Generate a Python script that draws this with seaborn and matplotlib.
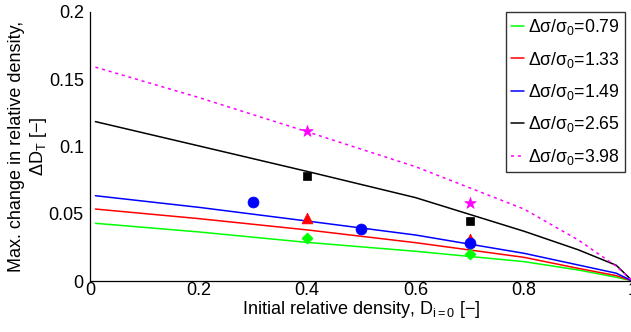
import matplotlib
matplotlib.use("Agg")
import matplotlib.pyplot as plt
import seaborn as sns

# Model curves: max. change in relative density vs initial relative density
x_curve = [0.01, 0.2, 0.4, 0.6, 0.8, 0.9, 0.97, 1.0]
dt_079 = [0.0429, 0.0365, 0.0287, 0.0221, 0.0144, 0.0082, 0.0028, 0.0]
dt_133 = [0.0535, 0.0464, 0.0380, 0.0285, 0.0176, 0.0094, 0.0040, 0.0]
dt_149 = [0.0634, 0.0548, 0.0446, 0.0342, 0.0206, 0.0119, 0.0058, 0.0]
dt_265 = [0.1185, 0.1005, 0.0815, 0.0620, 0.0370, 0.0232, 0.0117, 0.0]
dt_398 = [0.1590, 0.1365, 0.1110, 0.0850, 0.0535, 0.0305, 0.0110, 0.0]

# Measured points
x_079_pts = [0.4, 0.7]
y_079_pts = [0.032, 0.020]
x_133_pts = [0.4, 0.7]
y_133_pts = [0.047, 0.031]
x_149_pts = [0.3, 0.5, 0.7]
y_149_pts = [0.059, 0.039, 0.0285]
x_265_pts = [0.4, 0.7]
y_265_pts = [0.078, 0.0448]
x_398_pts = [0.4, 0.7]
y_398_pts = [0.1115, 0.0578]

labels = [r"Δσ/σ$_0$=0.79", r"Δσ/σ$_0$=1.33", r"Δσ/σ$_0$=1.49",
          r"Δσ/σ$_0$=2.65", r"Δσ/σ$_0$=3.98"]
x_ticks = [0, 0.2, 0.4, 0.6, 0.8, 1.0]
x_ticklabels = ["0", "0.2", "0.4", "0.6", "0.8", "1"]
y_ticks = [0, 0.05, 0.1, 0.15, 0.2]
y_ticklabels = ["0", "0.05", "0.1", "0.15", "0.2"]

sns.set_theme(style="white")
plt.rcParams["font.family"] = ["Liberation Sans", "DejaVu Sans"]
plt.rcParams["mathtext.fontset"] = "custom"
plt.rcParams["mathtext.rm"] = "Liberation Sans"
plt.rcParams["mathtext.it"] = "Liberation Sans"
plt.rcParams["mathtext.default"] = "regular"

fs = 13
fig = plt.figure(figsize=(6.31, 3.32), dpi=100)
ax = fig.add_axes([90 / 631, 51 / 332, 542.5 / 631, 269 / 332])
ax.set_facecolor("white")

curves = [dt_079, dt_133, dt_149, dt_265, dt_398]
colors = ["#00ff00", "#ff0000", "#0000ff", "#000000", "#ff00ff"]
styles = ["-", "-", "-", "-", (0, (2.0, 2.5))]
for ys, c, ls, lab in zip(curves, colors, styles, labels):
    sns.lineplot(x=x_curve, y=ys, ax=ax, color=c, linewidth=1.1,
                 linestyle=ls, label=lab, sort=False, zorder=2)

pts = [
    (x_079_pts, y_079_pts, "D", 32, colors[0]),
    (x_133_pts, y_133_pts, "^", 60, colors[1]),
    (x_149_pts, y_149_pts, "o", 62, colors[2]),
    (x_265_pts, y_265_pts, "s", 28, colors[3]),
    (x_398_pts, y_398_pts, "*", 75, colors[4]),
]
for xs, ys, m, s, c in pts:
    sns.scatterplot(x=xs, y=ys, ax=ax, marker=m, s=s, color=c,
                    edgecolor=c, linewidth=0.5, legend=False, zorder=3)

ax.set_xlim(0, 1)
ax.set_ylim(0, 0.2)
ax.set_xticks(x_ticks)
ax.set_xticklabels(x_ticklabels)
ax.set_yticks(y_ticks)
ax.set_yticklabels(y_ticklabels)
ax.tick_params(direction="in", length=4, width=0.8, colors="black",
               labelsize=fs)
ax.tick_params(axis="y", pad=4.5)
ax.tick_params(axis="x", pad=1)
for side in ["top", "right"]:
    ax.spines[side].set_visible(False)
for side in ["left", "bottom"]:
    ax.spines[side].set_color("black")
    ax.spines[side].set_linewidth(0.9)

ax.set_xlabel(r"Initial relative density, D$_{i=0}$ [−]", fontsize=fs,
              color="black", labelpad=0)
ax.set_ylabel("Max. change in relative density,\n" + r"ΔD$_T$ [−]",
              fontsize=fs, color="black", labelpad=0, linespacing=1.2)

leg = ax.legend(loc="upper right", bbox_to_anchor=(0.986, 1.0),
                borderaxespad=0, fontsize=12.7, frameon=True, fancybox=False,
                handlelength=0.75, handletextpad=0.2, labelspacing=0.7,
                borderpad=0.3)
leg.get_frame().set_edgecolor("black")
leg.get_frame().set_linewidth(1.0)
for t in leg.get_texts():
    t.set_color("black")

fig.savefig("out.png", dpi=100)
